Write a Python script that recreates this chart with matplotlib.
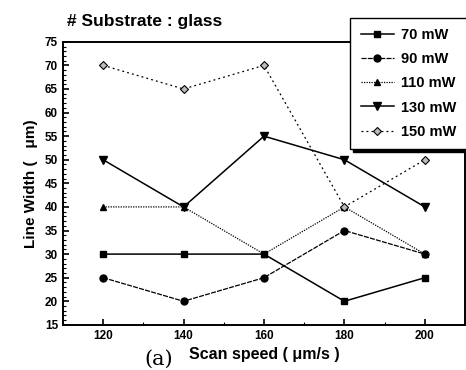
import matplotlib
matplotlib.use('Agg')
import matplotlib.pyplot as plt
from matplotlib.ticker import MultipleLocator

plt.rcParams['font.family'] = ['Liberation Sans', 'DejaVu Sans']
plt.rcParams['font.weight'] = 'bold'

speed = [120, 140, 160, 180, 200]
w70 = [30, 30, 30, 20, 25]
w90 = [25, 20, 25, 35, 30]
w110 = [40, 40, 30, 40, 30]
w130 = [50, 40, 55, 50, 40]
w150 = [70, 65, 70, 40, 50]
labels = ['70 mW', '90 mW', '110 mW', '130 mW', '150 mW']

fig = plt.figure(figsize=(4.66, 3.70), dpi=100)
ax = fig.add_axes([0.135, 0.122, 0.863, 0.765])

ax.plot(speed, w70, '-', color='k', lw=1.1, marker='s', ms=5, label=labels[0])
ax.plot(speed, w90, ls=(0, (4, 1)), color='k', lw=0.9, marker='o', ms=5, label=labels[1])
ax.plot(speed, w110, ls=(0, (1, 1)), color='k', lw=0.9, marker='^', ms=5, label=labels[2])
ax.plot(speed, w130, '-', color='k', lw=1.1, marker='v', ms=6, label=labels[3])
ax.plot(speed, w150, ls=(0, (1.5, 2.5)), color='k', lw=0.9, marker='D', ms=4,
        mfc='#bbbbbb', mec='k', mew=0.8, label=labels[4])

ax.set_xlim(110, 210)
ax.set_ylim(15, 75)
ax.set_xticks(speed)
ax.set_yticks(range(15, 80, 5))
ax.xaxis.set_minor_locator(MultipleLocator(10))
ax.yaxis.set_minor_locator(MultipleLocator(1))
ax.tick_params(which='both', direction='in', labelsize=8.5)
ax.tick_params(which='major', length=4, width=1.2)
ax.tick_params(which='minor', length=2, width=0.8)
for s in ax.spines.values():
    s.set_linewidth(1.4)

ax.set_ylabel('Line Width (   μm)', fontsize=11, fontweight='bold', labelpad=5)

fig.text(0.143, 0.93, '# Substrate : glass', fontsize=12.5, fontweight='bold')
fig.text(0.31, 0.015, '(a)', fontsize=15, family='DejaVu Serif', fontweight='normal')
fig.text(0.405, 0.03, 'Scan speed ( μm/s )', fontsize=11.5, fontweight='bold')

leg = ax.legend(loc='upper left', bbox_to_anchor=(0.752, 0.952),
                bbox_transform=fig.transFigure, fontsize=10.5, frameon=True,
                fancybox=False, shadow={'color': 'k', 'alpha': 1.0}, handlelength=2.3,
                borderpad=0.7, labelspacing=0.7, handletextpad=0.5,
                borderaxespad=0)
leg.get_frame().set_edgecolor('k')
leg.get_frame().set_linewidth(1.0)

plt.savefig('out.png', dpi=100)
